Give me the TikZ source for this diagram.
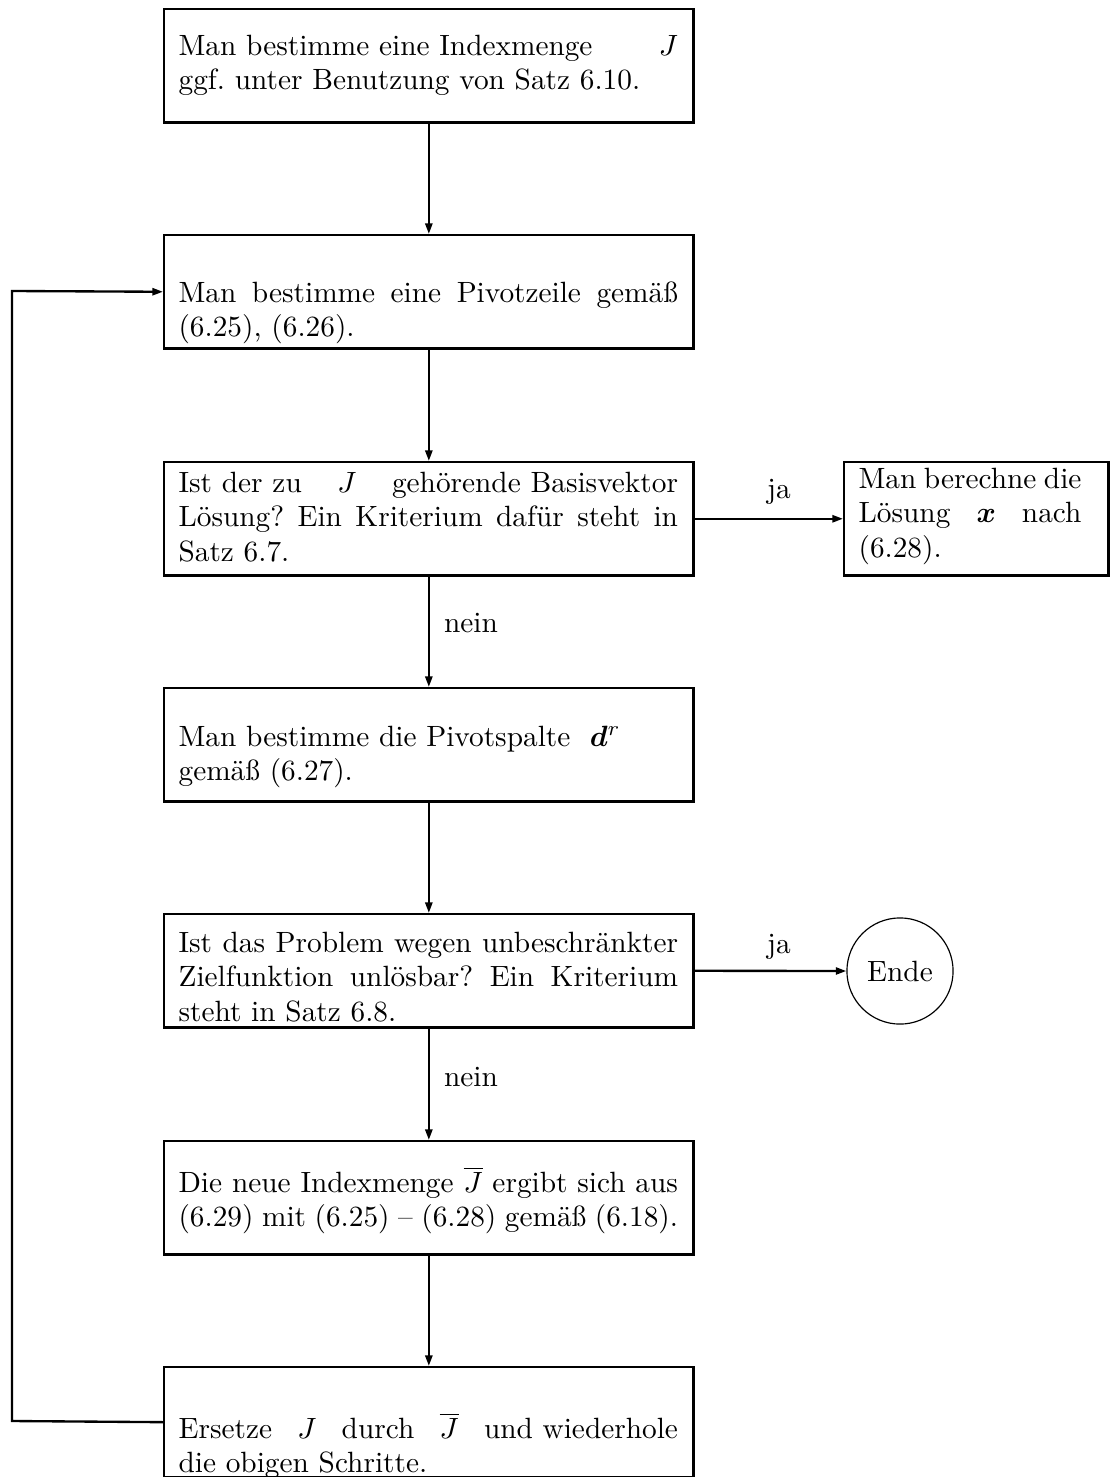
\documentclass[tikz,border=0pt]{standalone}
\usepackage{bm}
\usetikzlibrary{arrows.meta}
\begin{document}
\frenchspacing
\begin{tikzpicture}[x=0.341pt,y=-0.341pt,
  box/.style={draw,line width=0.8pt,minimum width=180.5pt,minimum height=38.6pt,inner sep=0pt,anchor=north west},
  txt/.style={inner sep=0pt,anchor=north west,text width=170.3pt,align=justify,font=\fontsize{10}{11.7}\selectfont},
  conn/.style={line width=0.8pt,-{Triangle[length=3.6pt,width=2.4pt]}},
  lab/.style={inner sep=0pt,font=\fontsize{10}{11.7}\selectfont},
  endnode/.style={draw,circle,line width=0.4pt,minimum size=36.2pt,inner sep=0pt,font=\fontsize{10}{11.7}\selectfont}]
\useasboundingbox (0,0) rectangle (1109,1477);
% boxes
\node[box] (b1) at (163,8) {};
\node[box] (b2) at (163,234) {};
\node[box] (b3) at (163,461) {};
\node[box] (b4) at (163,687) {};
\node[box] (b5) at (163,913) {};
\node[box] (b6) at (163,1140) {};
\node[box,minimum height=37.5pt] (b7) at (163,1366) {};
\node[box,minimum width=90.1pt] (r) at (843,461) {};
\node[endnode] (c) at (900,971) {Ende};
% texts
\node[txt] (t1) at (178,31) {\strut Man bestimme eine Indexmenge\hfill$J$\linebreak ggf. unter Benutzung von Satz 6.10.};
\node[txt] (t2) at (178,278) {\strut Man bestimme eine Pivotzeile gemäß\linebreak (6.25), (6.26).};
\node[txt] (t3) at (178,468) {\strut Ist der zu\hfill$J$\hfill gehörende Basisvektor\linebreak Lösung? Ein Kriterium dafür steht in\linebreak Satz 6.7.};
\node[txt] (t4) at (178,722) {\strut Man bestimme die Pivotspalte\ \ $\bm{d}^r$\newline gemäß (6.27).};
\node[txt] (t5) at (178,928) {\strut Ist das Problem wegen unbeschränkter\linebreak Zielfunktion unlösbar? Ein Kriterium\linebreak steht in Satz 6.8.};
\node[txt] (t6) at (178,1166) {\strut Die neue Indexmenge\ $\overline{J}$\ ergibt sich aus\linebreak (6.29) mit (6.25) -- (6.28) gemäß (6.18).};
\node[txt] (t7) at (178,1412) {\strut Ersetze\hfill$J$\hfill durch\hfill$\overline{J}$\hfill und wiederhole\linebreak die obigen Schritte.};
\node[txt,text width=76pt] (tr) at (858,464) {\strut Man berechne die\linebreak Lösung\hfill$\bm{x}$\hfill nach\linebreak (6.28).};
% connectors
\draw[conn] (b1.south) -- (b2.north);
\draw[conn] (b2.south) -- (b3.north);
\draw[conn] (b3.south) -- (b4.north);
\draw[conn] (b4.south) -- (b5.north);
\draw[conn] (b5.south) -- (b6.north);
\draw[conn] (b6.south) -- (b7.north);
\draw[conn] (b3.east) -- (r.west);
\draw[conn] (b5.east) -- (c.west);
\coordinate (lb) at (12,1421);
\coordinate (lt) at (12,291);
\draw[conn] (b7.west) -- (lb) -- (lt) -- (b2.west);
% labels
\node[lab] (ja1) at (779,492) {ja};
\node[lab] (ja2) at (779,947) {ja};
\node[lab] (n1) at (471,623) {nein};
\node[lab] (n2) at (471,1077) {nein};
\end{tikzpicture}
\end{document}
